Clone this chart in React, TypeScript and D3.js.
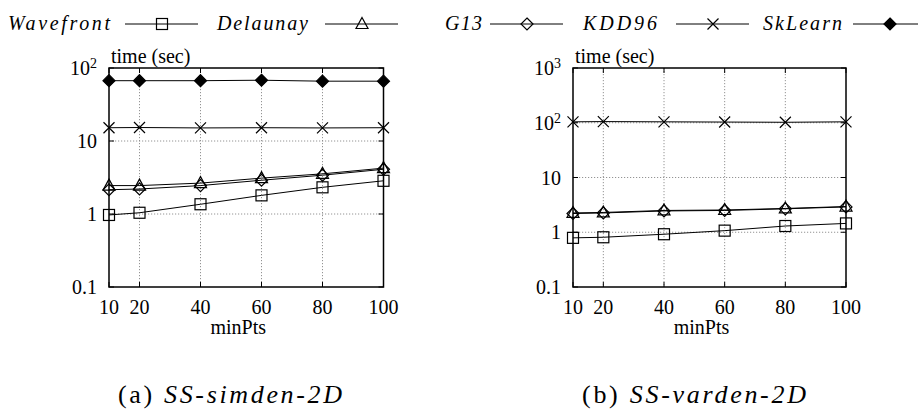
import * as d3 from "d3";

const minPts = [10, 20, 40, 60, 80, 100];

// panel (a) SS-simden-2D
const simWavefront = [0.97, 1.04, 1.36, 1.8, 2.32, 2.85];
const simDelaunay = [2.45, 2.45, 2.65, 3.1, 3.55, 4.25];
const simG13 = [2.15, 2.2, 2.45, 2.9, 3.4, 4.1];
const simKDD96 = [15.2, 15.3, 15.1, 15.2, 15.1, 15.2];
const simSkLearn = [67, 67, 67, 68, 66, 66];

// panel (b) SS-varden-2D
const varWavefront = [0.79, 0.81, 0.92, 1.07, 1.3, 1.45];
const varDelaunay = [2.25, 2.3, 2.5, 2.55, 2.72, 2.95];
const varG13 = [2.2, 2.25, 2.45, 2.5, 2.68, 2.9];
const varKDD96 = [104, 105, 104, 103, 102, 104];

const xTicks = [10, 20, 40, 60, 80, 100];
const yTicksSim = [0.1, 1, 10, 100];
const yTicksVar = [0.1, 1, 10, 100, 1000];

const legendNames = ["Wavefront", "Delaunay", "G13", "KDD96", "SkLearn"];
const legendMarkers = ["square", "triangle", "diamond", "cross", "fdiamond"];

type Series = { marker: string; values: number[] };

const serif =
  '"Liberation Serif", Tinos, "Times New Roman", "Nimbus Roman", "Nimbus Roman No9 L", FreeSerif, "Noto Serif", "DejaVu Serif", serif';

function Marker({ kind, x, y }: { kind: string; x: number; y: number }) {
  const s = 5.5;
  if (kind === "square")
    return <rect x={x - s} y={y - s} width={2 * s} height={2 * s} fill="none" stroke="#000" strokeWidth={1.2} />;
  if (kind === "triangle")
    return (
      <path
        d={`M${x},${y - s - 1}L${x + s + 0.5},${y + s - 1}L${x - s - 0.5},${y + s - 1}Z`}
        fill="none"
        stroke="#000"
        strokeWidth={1.2}
      />
    );
  if (kind === "diamond" || kind === "fdiamond")
    return (
      <path
        d={`M${x},${y - s - 0.5}L${x + s + 0.5},${y}L${x},${y + s + 0.5}L${x - s - 0.5},${y}Z`}
        fill={kind === "fdiamond" ? "#000" : "none"}
        stroke="#000"
        strokeWidth={1.2}
      />
    );
  return (
    <path
      d={`M${x - s},${y - s}L${x + s},${y + s}M${x - s},${y + s}L${x + s},${y - s}`}
      stroke="#000"
      strokeWidth={1.2}
    />
  );
}

function tickLabel(v: number) {
  if (v < 1) return <tspan>0.1</tspan>;
  if (v < 100) return <tspan>{String(v)}</tspan>;
  const e = Math.round(Math.log10(v));
  return (
    <>
      <tspan>10</tspan>
      <tspan fontSize={14} dy={-7}>
        {e}
      </tspan>
    </>
  );
}

function Panel({
  left,
  right,
  yMax,
  yTicks,
  series,
  caption,
  tag,
}: {
  left: number;
  right: number;
  yMax: number;
  yTicks: number[];
  series: Series[];
  caption: string;
  tag: string;
}) {
  const top = 68;
  const bottom = 287;
  const x = d3.scaleLinear().domain([10, 100]).range([left, right]);
  const y = d3.scaleLog().domain([0.1, yMax]).range([bottom, top]);
  const line = d3
    .line<number>()
    .x((_, i) => x(minPts[i]))
    .y((d) => y(d));
  const cx = (left + right) / 2;

  return (
    <g fontFamily={serif} fill="#000">
      {xTicks.slice(1, -1).map((t) => (
        <line key={"gx" + t} x1={x(t)} x2={x(t)} y1={top} y2={bottom} stroke="#888" strokeWidth={0.9} strokeDasharray="1.2 1.8" />
      ))}
      {yTicks.slice(1, -1).map((t) => (
        <line key={"gy" + t} x1={left} x2={right} y1={y(t)} y2={y(t)} stroke="#888" strokeWidth={0.9} strokeDasharray="1.2 1.8" />
      ))}
      {xTicks.map((t) => (
        <g key={"tx" + t}>
          <line x1={x(t)} x2={x(t)} y1={bottom} y2={bottom - 5} stroke="#000" />
          <line x1={x(t)} x2={x(t)} y1={top} y2={top + 5} stroke="#000" />
          <text x={x(t)} y={314} fontSize={20} textAnchor="middle">
            {t}
          </text>
        </g>
      ))}
      {yTicks.map((t) => (
        <g key={"ty" + t}>
          <line x1={left} x2={left + 5} y1={y(t)} y2={y(t)} stroke="#000" />
          <line x1={right} x2={right - 5} y1={y(t)} y2={y(t)} stroke="#000" />
          <text x={left - 12} y={y(t) + 7} fontSize={20} textAnchor="end">
            {tickLabel(t)}
          </text>
        </g>
      ))}
      {series.map((s) => (
        <path key={"l" + s.marker} d={line(s.values) || ""} fill="none" stroke="#000" strokeWidth={1} />
      ))}
      {series.map((s) =>
        s.values.map((v, i) => <Marker key={s.marker + i} kind={s.marker} x={x(minPts[i])} y={y(v)} />)
      )}
      <rect x={left} y={top} width={right - left} height={bottom - top} fill="none" stroke="#000" strokeWidth={1.5} />
      <text x={left + 2} y={63} fontSize={20}>
        time (sec)
      </text>
      <text x={cx - 8} y={334} fontSize={20} textAnchor="middle">
        minPts
      </text>
      <text x={left + 9} y={403} fontSize={26} textLength={224} lengthAdjust="spacing">
        <tspan>{tag} </tspan>
        <tspan fontStyle="italic">{caption}</tspan>
      </text>
    </g>
  );
}

const legendTextX = [8, 217, 445, 583, 763];
const legendTextW = [102, 91, 37, 74, 79];
const legendLineX = [125, 325, 490, 676, 853];

export default function App() {
  const simSeries: Series[] = [
    { marker: "square", values: simWavefront },
    { marker: "triangle", values: simDelaunay },
    { marker: "diamond", values: simG13 },
    { marker: "cross", values: simKDD96 },
    { marker: "fdiamond", values: simSkLearn },
  ];
  const varSeries: Series[] = [
    { marker: "square", values: varWavefront },
    { marker: "triangle", values: varDelaunay },
    { marker: "diamond", values: varG13 },
    { marker: "cross", values: varKDD96 },
  ];

  return (
    <svg width={918} height={410} fontFamily={serif} style={{ position: "absolute", left: 0, top: 0, background: "#fff" }}>
      <rect width={918} height={410} fill="#fff" />
      <g fontFamily={serif}>
        {legendNames.map((n, i) => (
          <g key={n}>
            <text
              x={legendTextX[i]}
              y={30}
              fontSize={20}
              fontStyle="italic"
              textLength={legendTextW[i]}
              lengthAdjust="spacing"
            >
              {n}
            </text>
            <line x1={legendLineX[i]} x2={legendLineX[i] + 73} y1={24} y2={24} stroke="#000" strokeWidth={1} />
            <Marker kind={legendMarkers[i]} x={legendLineX[i] + 37} y={24} />
          </g>
        ))}
      </g>
      <Panel left={109} right={383.5} yMax={100} yTicks={yTicksSim} series={simSeries} caption="SS-simden-2D" tag="(a)" />
      <Panel left={573} right={846} yMax={1000} yTicks={yTicksVar} series={varSeries} caption="SS-varden-2D" tag="(b)" />
    </svg>
  );
}
